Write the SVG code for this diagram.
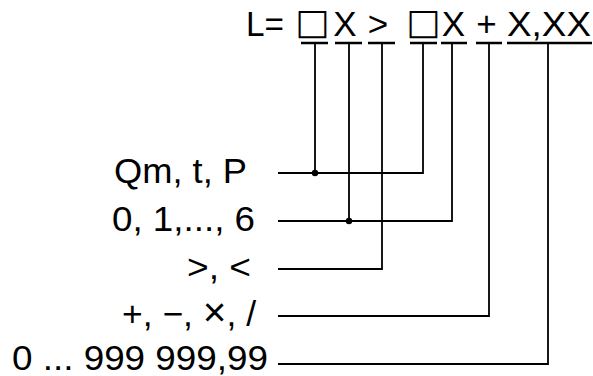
<svg xmlns="http://www.w3.org/2000/svg" width="593" height="376" viewBox="0 0 593 376">
<style>
  text { font-family: "Liberation Sans", Arial, "DejaVu Sans", sans-serif; font-size: 35px; fill: #000; }
  .m { text-anchor: middle; }
  .sq { font-family: "DejaVu Sans", sans-serif; font-size: 36px; }
  .ul { stroke: #000; stroke-width: 2.6; fill: none; }
  .ln { stroke: #000; stroke-width: 1.8; fill: none; }
  .dot { fill: #000; }
</style>
<rect width="593" height="376" fill="#fff"/>
<g id="formula">
  <text x="246" y="36" textLength="38" lengthAdjust="spacingAndGlyphs">L=</text>
  <text class="m sq" x="312.5" y="34">□</text>
  <text class="m" x="345" y="36">X</text>
  <text class="m" x="378" y="36" font-size="38">&gt;</text>
  <text class="m sq" x="423.5" y="34">□</text>
  <text class="m" x="453.5" y="36">X</text>
  <text class="m" x="486.5" y="36" font-size="38">+</text>
  <text x="507" y="36" textLength="84" lengthAdjust="spacingAndGlyphs">X,XX</text>
  <path class="ul" d="M301 43H328M335 43H362M368 43H395M410 43H437M441 43H467M476 43H502M507 43H592"/>
</g>
<g id="label-type">
  <text x="114" y="183" textLength="133" lengthAdjust="spacingAndGlyphs">Qm, t, P</text>
</g>
<g id="label-digits">
  <text x="112" y="231" textLength="143" lengthAdjust="spacingAndGlyphs">0, 1,..., 6</text>
</g>
<g id="label-compare">
  <text x="187" y="279" textLength="64" lengthAdjust="spacingAndGlyphs">&gt;, &lt;</text>
</g>
<g id="label-ops">
  <text x="122" y="326" textLength="134" lengthAdjust="spacingAndGlyphs">+, −, <tspan font-size="40">×</tspan>, /</text>
</g>
<g id="label-value">
  <text x="12" y="370" textLength="256" lengthAdjust="spacingAndGlyphs">0 ... 999 999,99</text>
</g>
<g id="connectors">
  <path class="ln" d="M278 173H423V43M315 43V173"/>
  <path class="ln" d="M278 221H452V43M349 43V221"/>
  <path class="ln" d="M278 269H382V43"/>
  <path class="ln" d="M278 316H489V43"/>
  <path class="ln" d="M278 364H548V43"/>
  <circle class="dot" cx="315" cy="173" r="3.2"/>
  <circle class="dot" cx="349" cy="221" r="3.2"/>
</g>
</svg>
